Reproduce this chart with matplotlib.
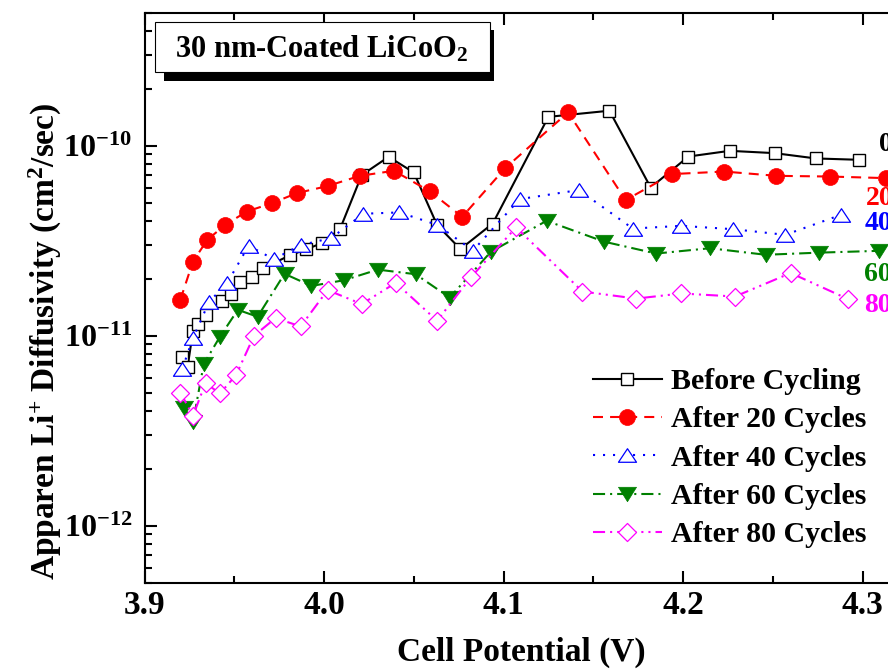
import matplotlib
matplotlib.use("Agg")
import matplotlib.pyplot as plt
from matplotlib.path import Path
from matplotlib.patches import Rectangle
from matplotlib.ticker import MultipleLocator, LogLocator, NullFormatter

plt.rcParams['font.family'] = ['Liberation Serif', 'DejaVu Serif']
plt.rcParams['font.weight'] = 'bold'
plt.rcParams['mathtext.fontset'] = 'custom'
plt.rcParams['mathtext.rm'] = 'Liberation Serif:bold'
plt.rcParams['mathtext.bf'] = 'Liberation Serif:bold'
plt.rcParams['mathtext.it'] = 'Liberation Serif:bold'
plt.rcParams['mathtext.default'] = 'bf'

# data (cell potential V, diffusivity in units of 1e-11 cm2/s)
x_before = [3.921, 3.924, 3.927, 3.930, 3.934, 3.943, 3.948, 3.953, 3.960, 3.966,
            3.981, 3.990, 3.999, 4.009, 4.021, 4.036, 4.050, 4.063, 4.076, 4.094,
            4.125, 4.159, 4.182, 4.203, 4.226, 4.251, 4.274, 4.298]
d_before = [0.769, 0.684, 1.06, 1.15, 1.29, 1.52, 1.65, 1.92, 2.04, 2.27,
            2.65, 2.85, 3.08, 3.66, 7.01, 8.75, 7.24, 3.83, 2.86, 3.90,
            14.2, 15.3, 6.03, 8.78, 9.41, 9.15, 8.58, 8.44]

x_20 = [3.920, 3.927, 3.935, 3.945, 3.957, 3.971, 3.985, 4.002, 4.020, 4.039,
        4.059, 4.077, 4.101, 4.136, 4.168, 4.194, 4.223, 4.252, 4.282, 4.313]
d_20 = [1.55, 2.46, 3.20, 3.84, 4.51, 4.99, 5.64, 6.14, 6.95, 7.39,
        5.75, 4.23, 7.64, 15.0, 5.18, 7.10, 7.32, 6.95, 6.89, 6.76]

x_40 = [3.921, 3.927, 3.936, 3.946, 3.958, 3.972, 3.987, 4.004, 4.022, 4.042,
        4.063, 4.083, 4.109, 4.142, 4.172, 4.199, 4.228, 4.257, 4.288]
d_40 = [0.668, 0.972, 1.51, 1.89, 2.98, 2.53, 3.00, 3.27, 4.39, 4.46,
        3.84, 2.81, 5.24, 5.85, 3.67, 3.79, 3.64, 3.40, 4.33]

x_60 = [3.922, 3.927, 3.933, 3.942, 3.952, 3.963, 3.978, 3.993, 4.011, 4.030,
        4.051, 4.070, 4.093, 4.124, 4.156, 4.185, 4.215, 4.246, 4.276, 4.309]
d_60 = [0.419, 0.350, 0.710, 0.988, 1.37, 1.26, 2.12, 1.83, 1.96, 2.23,
        2.11, 1.59, 2.77, 4.03, 3.13, 2.71, 2.89, 2.67, 2.74, 2.80]

x_80 = [3.920, 3.927, 3.934, 3.942, 3.951, 3.961, 3.973, 3.987, 4.002, 4.021,
        4.040, 4.063, 4.082, 4.107, 4.144, 4.174, 4.199, 4.229, 4.260, 4.292]
d_80 = [0.503, 0.379, 0.564, 0.497, 0.621, 1.00, 1.24, 1.12, 1.74, 1.47,
        1.90, 1.20, 2.04, 3.72, 1.71, 1.57, 1.67, 1.61, 2.14, 1.56]

labels = ['Before Cycling', 'After 20 Cycles', 'After 40 Cycles',
          'After 60 Cycles', 'After 80 Cycles']
end_labels = ['0', '20', '40', '60', '80']
end_pos = [(4.309, 1.02e-10), (4.302, 5.3e-11), (4.301, 3.9e-11),
           (4.301, 2.1e-11), (4.301, 1.45e-11)]


def closed_marker(verts):
    return Path(verts + [verts[0]], closed=True)


tri_up = closed_marker([(-1, -0.75), (1, -0.75), (0, 0.75)])
tri_down = closed_marker([(-1, 0.8), (1, 0.8), (0, -0.8)])
diamond = closed_marker([(0, 1), (1, 0), (0, -1), (-1, 0)])

W, H = 888, 670
fig = plt.figure(figsize=(W / 100, H / 100), dpi=100)
ax = fig.add_axes([144.5 / W, (H - 583) / H, 754 / W, 570 / H])

sc = 1e-11
styles = [
    dict(color='black', ls='-', marker='s', ms=9, mfc='white', mec='black', mew=1.0),
    dict(color='#FF0000', dashes=(4.8, 3.4), marker='o', ms=11.5, mfc='#FF0000', mec='#FF0000', mew=0.5),
    dict(color='#0000FF', dashes=(1, 3.8), marker=tri_up, ms=13, mfc='white', mec='#0000FF', mew=0.9),
    dict(color='#008000', dashes=(5.8, 2.4, 1, 2.4), marker=tri_down, ms=13, mfc='#008000', mec='#008000', mew=0.5),
    dict(color='#FF00FF', dashes=(5.8, 2.4, 1, 2.4, 1, 2.4), marker=diamond, ms=13, mfc='white', mec='#FF00FF', mew=0.9),
]
series = [(x_before, d_before), (x_20, d_20), (x_40, d_40), (x_60, d_60), (x_80, d_80)]

for (xs, ds), st, lab in zip(series, styles, labels):
    ax.plot(xs, [d * sc for d in ds], lw=1.5, label=lab, clip_on=False, **st)

ax.set_yscale('log')
ax.set_xlim(3.9, 3.9 + 754 / 1795)
ax.set_ylim(5e-13, 5e-10)

ax.xaxis.set_major_locator(MultipleLocator(0.1))
ax.xaxis.set_minor_locator(MultipleLocator(0.05))
ax.xaxis.set_major_formatter(plt.FuncFormatter(lambda v, p: f'{v:.1f}'))
ax.yaxis.set_major_locator(LogLocator(base=10))
ax.yaxis.set_minor_locator(LogLocator(base=10, subs=range(2, 10)))
ax.yaxis.set_minor_formatter(NullFormatter())

for s in ax.spines.values():
    s.set_linewidth(1.5)
ax.tick_params(which='both', direction='in', top=True, right=False, width=1.5)
ax.tick_params(which='major', length=8.5)
ax.tick_params(which='minor', length=5)
ax.tick_params(axis='x', which='major', labelsize=24, pad=5)
ax.tick_params(axis='y', which='major', labelsize=23, pad=9)

fig.text(521 / W, 1 - 652 / H, 'Cell Potential (V)', fontsize=24, fontweight='bold',
         ha='center', va='center')
fig.text(45 / W, 1 - 341 / H, 'Apparen Li$^{+}$ Diffusivity (cm$^{2}$/sec)', fontsize=24,
         fontweight='bold', rotation=90, ha='center', va='center')

# title box with shadow
fig.add_artist(Rectangle((164 / W, 1 - 81 / H), (494 - 164) / W, (81 - 30) / H,
                         transform=fig.transFigure, facecolor='black', edgecolor='none', zorder=5))
fig.add_artist(Rectangle((155 / W, 1 - 72 / H), (490 - 155) / W, (72 - 22) / H,
                         transform=fig.transFigure, facecolor='white', edgecolor='black',
                         lw=0.8, zorder=6))
fig.text(322 / W, 1 - 58 / H, '30 nm-Coated LiCoO$_2$', fontsize=22, fontweight='bold',
         ha='center', va='baseline', zorder=7)

leg = ax.legend(loc='upper left', bbox_to_anchor=((593 - 144.5) / 754, (583 - 368) / 570),
                frameon=False, fontsize=21.5, handlelength=2.3, handletextpad=0.3,
                labelspacing=0.38, borderpad=0, borderaxespad=0, numpoints=1)

for (xp, yp), txt, st in zip(end_pos, end_labels, styles):
    ax.text(xp, yp, txt, color=st['color'], fontsize=20, fontweight='bold',
            ha='left', va='center', clip_on=False)

fig.savefig('out.png', dpi=100)
